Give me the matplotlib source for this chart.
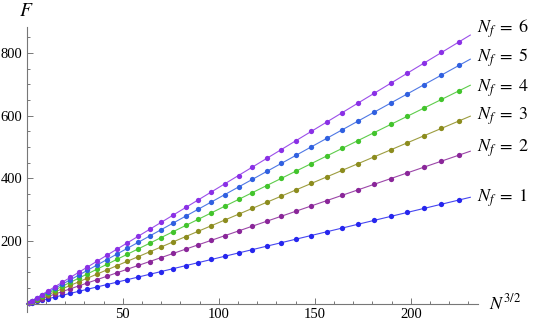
import numpy as np
import matplotlib.pyplot as plt
from matplotlib.ticker import MultipleLocator

plt.rcParams['font.family'] = ['Liberation Serif', 'DejaVu Serif']
plt.rcParams['mathtext.fontset'] = 'stix'

# data: N = 1..37, plotted against N^(3/2)
N = np.arange(1, 38)

F1 = [1.5, 4.2, 7.6, 11.8, 16.4, 21.6, 27.2, 33.3, 39.7, 46.5, 53.7, 61.2, 68.9,
      77.1, 85.5, 94.1, 103.1, 112.3, 121.8, 131.6, 141.6, 151.8, 162.3, 173.0,
      183.9, 195.0, 206.4, 217.9, 229.7, 241.7, 253.9, 266.3, 278.9, 291.6,
      304.6, 317.7, 331.1]
F2 = [2.1, 6.0, 11.0, 16.9, 23.6, 31.0, 39.0, 47.7, 56.9, 66.6, 76.9, 87.6, 98.8,
      110.4, 122.4, 134.8, 147.7, 160.9, 174.5, 188.5, 202.8, 217.4, 232.4,
      247.7, 263.4, 279.3, 295.6, 312.2, 329.1, 346.2, 363.7, 381.4, 399.4,
      417.7, 436.3, 455.1, 474.2]
F3 = [2.6, 7.3, 13.5, 20.7, 29.0, 38.1, 48.0, 58.6, 70.0, 81.9, 94.5, 107.7, 121.4,
      135.7, 150.5, 165.8, 181.6, 197.9, 214.6, 231.7, 249.3, 267.4, 285.8,
      304.6, 323.9, 343.5, 363.5, 383.9, 404.6, 425.7, 447.2, 469.0, 491.2,
      513.7, 536.5, 559.7, 583.1]
F4 = [3.0, 8.5, 15.7, 24.1, 33.7, 44.4, 55.9, 68.3, 81.5, 95.4, 110.1, 125.5, 141.5,
      158.1, 175.3, 193.2, 211.5, 230.5, 250.0, 269.9, 290.4, 311.4, 332.9,
      354.9, 377.3, 400.1, 423.4, 447.1, 471.3, 495.9, 520.9, 546.3, 572.1,
      598.3, 624.9, 651.9, 679.2]
F5 = [3.4, 9.6, 17.6, 27.0, 37.8, 49.7, 62.6, 76.4, 91.2, 106.8, 123.2, 140.4, 158.3,
      176.9, 196.2, 216.2, 236.8, 258.0, 279.8, 302.1, 325.1, 348.6, 372.6,
      397.2, 422.3, 447.8, 473.9, 500.5, 527.5, 555.1, 583.0, 611.5, 640.4,
      669.7, 699.4, 729.6, 760.2]
F6 = [3.7, 10.5, 19.3, 29.7, 41.5, 54.6, 68.7, 84.0, 100.2, 117.3, 135.4, 154.3, 173.9,
      194.4, 215.6, 237.5, 260.1, 283.4, 307.3, 331.9, 357.1, 382.9, 409.3,
      436.3, 463.9, 492.0, 520.7, 549.8, 579.5, 609.8, 640.5, 671.8, 703.5,
      735.7, 768.4, 801.6, 835.2]

series = [F1, F2, F3, F4, F5, F6]
labels = ['$N_f\\;=\\;1$', '$N_f\\;=\\;2$', '$N_f\\;=\\;3$',
          '$N_f\\;=\\;4$', '$N_f\\;=\\;5$', '$N_f\\;=\\;6$']
colors = ['#2626ee', '#8a2699', '#8c8c1e', '#42c42c', '#3060e0', '#8a30e6']
label_dy = [-0.7, 2.0, 0.0, -2.0, 1.0, 4.3]  # label nudges in points

x = N ** 1.5
x_line = np.array([0, 231])

fig = plt.figure(figsize=(5.45, 3.25), dpi=100)
ax = fig.add_axes([0.049, 0.041, 0.828, 0.876])

for F, c, lab, dy in zip(series, colors, labels, label_dy):
    F = np.array(F)
    a, b = np.polyfit(x, F, 1)
    ax.plot(x_line, a * x_line + b, color=c, lw=0.8, alpha=0.85, clip_on=False)
    ax.plot(x, F, 'o', color=c, ms=3.8, mew=0, clip_on=False)
    ax.annotate(lab, xy=(x_line[-1], a * x_line[-1] + b),
                xytext=(5, dy), textcoords='offset points',
                ha='left', va='center', fontsize=13, annotation_clip=False)

ax.set_xlim(0, 235)
ax.set_ylim(-25, 883)

for s in ['top', 'right']:
    ax.spines[s].set_visible(False)
ax.spines['bottom'].set_position(('data', 0))
ax.spines['left'].set_position(('data', 0))
for s in ['bottom', 'left']:
    ax.spines[s].set_color('#777777')
    ax.spines[s].set_linewidth(0.8)

ax.xaxis.set_major_locator(MultipleLocator(50))
ax.xaxis.set_minor_locator(MultipleLocator(10))
ax.yaxis.set_major_locator(MultipleLocator(200))
ax.yaxis.set_minor_locator(MultipleLocator(50))
ax.tick_params(which='both', direction='in', color='#777777', width=0.7,
               labelsize=10.5, pad=3)
ax.tick_params(which='major', length=4)
ax.tick_params(which='minor', length=2.2)
ax.set_xticks([50, 100, 150, 200])
ax.set_yticks([200, 400, 600, 800])

fig.text(0.0486, 0.965, '$F$', fontsize=14, ha='center', va='center')
fig.text(0.898, 0.068, '$N^{3/2}$', fontsize=13, ha='left', va='center')

fig.savefig('out.png', dpi=100)
